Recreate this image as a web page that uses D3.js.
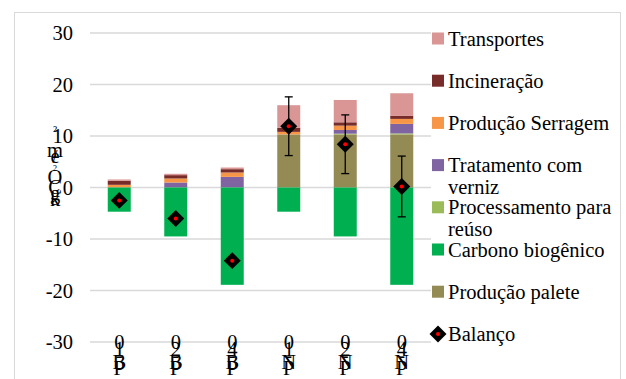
<!DOCTYPE html>
<html>
<head>
<meta charset="utf-8">
<script src="https://cdn.jsdelivr.net/npm/d3@7"></script>
<style>
  html, body { margin: 0; padding: 0; background: #fff; }
</style>
</head>
<body>
<svg id="chart" width="626" height="379"></svg>
<script>
// Pallet scenarios (kg CO2e per m²)
const categories = ["PB-10", "PB-20", "PB-40", "PN-10", "PN-20", "PN-40"];

const producaoPalete   = [0, 0, 0, 10.3, 10.3, 10.3];
const processamento    = [0, 0, 0, 0, 0.15, 0.2];
const tratamento       = [0, 0.97, 2.07, 0, 0.72, 1.85];
const producaoSerragem = [0.52, 0.78, 0.84, 0.5, 0.84, 0.97];
const incineracao      = [0.78, 0.65, 0.65, 0.78, 0.65, 0.58];
const transportes      = [0.26, 0.26, 0.32, 4.4, 4.34, 4.4];
const carbonoBiogenico = [-4.7, -9.5, -18.9, -4.7, -9.5, -18.9];
const balanco          = [-2.5, -6.0, -14.2, 11.9, 8.4, 0.2];
const balancoErro      = [0, 0, 0, 5.7, 5.7, 5.9];

const yTicks = [-30, -20, -10, 0, 10, 20, 30];
const yLabel = "kgCO₂e/m²";

// Series, bottom of the stack first
const series = [
  { key: "Produção palete",          values: producaoPalete,   color: "#948A54" },
  { key: "Processamento para reúso", values: processamento,    color: "#9BBB59" },
  { key: "Tratamento com verniz",    values: tratamento,       color: "#8064A2" },
  { key: "Produção Serragem",        values: producaoSerragem, color: "#F79646" },
  { key: "Incineração",              values: incineracao,      color: "#772C2A" },
  { key: "Transportes",              values: transportes,      color: "#D99694" },
  { key: "Carbono biogênico",        values: carbonoBiogenico, color: "#00B050" }
];

const legendItems = [
  { lines: ["Transportes"], color: "#D99694" },
  { lines: ["Incineração"], color: "#772C2A" },
  { lines: ["Produção Serragem"], color: "#F79646" },
  { lines: ["Tratamento com", "verniz"], color: "#8064A2" },
  { lines: ["Processamento para", "reúso"], color: "#9BBB59" },
  { lines: ["Carbono biogênico"], color: "#00B050" },
  { lines: ["Produção palete"], color: "#948A54" },
  { lines: ["Balanço"], diamond: true }
];

const rows = categories.map((c, i) => {
  const r = { cat: c };
  series.forEach(s => { r[s.key] = s.values[i]; });
  return r;
});

const FONT = "'Liberation Serif', monospace";
const svg = d3.select("#chart");
const fontSize = 20.5;
function addText(parent, px, py, str, size, anchor) {
  return parent.append("text")
    .attr("x", px).attr("y", py)
    .attr("font-size", size || fontSize)
    .attr("text-anchor", anchor || "start")
    .attr("fill", "#000")
    .style("font-family", FONT)
    .text(str);
}

// Outer frame
svg.append("rect")
  .attr("x", 14.5).attr("y", 12.5)
  .attr("width", 606).attr("height", 380)
  .attr("fill", "none").attr("stroke", "#d9d9d9").attr("stroke-width", 1);

const x = d3.scaleBand().domain(categories).range([91, 430])
  .paddingInner(0.593).paddingOuter(0.2965);
const y = d3.scaleLinear().domain([-30, 30]).range([342, 33]);

// Horizontal gridlines
svg.append("g").selectAll("line").data(yTicks).join("line")
  .attr("x1", 90).attr("x2", 431)
  .attr("y1", d => y(d)).attr("y2", d => y(d))
  .attr("stroke", "#d9d9d9").attr("stroke-width", 1.4);

// Y axis labels (axis generator with its own text restyled)
const yAxis = d3.axisLeft(y).tickValues(yTicks).tickSize(0).tickPadding(0)
  .tickFormat(d => String(d));
const yg = svg.append("g").attr("transform", "translate(73,0)").call(yAxis)
  .attr("font-family", null).attr("font-size", null);
yg.select(".domain").remove();
yg.selectAll("text")
  .attr("font-size", fontSize).attr("fill", "#000")
  .style("font-family", FONT);

// Stacked bars
const stack = d3.stack().keys(series.map(s => s.key)).offset(d3.stackOffsetDiverging);
const stacked = stack(rows);
const colorOf = new Map(series.map(s => [s.key, s.color]));

svg.append("g").selectAll("g").data(stacked).join("g")
  .attr("fill", d => colorOf.get(d.key))
  .selectAll("rect").data(d => d).join("rect")
  .attr("x", d => x(d.data.cat))
  .attr("width", x.bandwidth())
  .attr("y", d => y(Math.max(d[0], d[1])))
  .attr("height", d => Math.abs(y(d[0]) - y(d[1])));

// Error bars on the balance
const cx = c => x(c) + x.bandwidth() / 2;
const errG = svg.append("g").attr("stroke", "#000").attr("stroke-width", 1.3);
categories.forEach((c, i) => {
  if (!balancoErro[i]) return;
  const top = y(balanco[i] + balancoErro[i]);
  const bot = y(balanco[i] - balancoErro[i]);
  errG.append("line").attr("x1", cx(c)).attr("x2", cx(c)).attr("y1", top).attr("y2", bot);
  errG.append("line").attr("x1", cx(c) - 4).attr("x2", cx(c) + 4).attr("y1", top).attr("y2", top);
  errG.append("line").attr("x1", cx(c) - 4).attr("x2", cx(c) + 4).attr("y1", bot).attr("y2", bot);
});

// Balance markers
const diamond = d3.symbol().type(d3.symbolSquare).size(144);
function drawMarker(g, px, py) {
  g.append("path").attr("d", diamond())
    .attr("transform", `translate(${px},${py}) rotate(45)`).attr("fill", "#000");
  g.append("circle").attr("cx", px).attr("cy", py).attr("r", 2).attr("fill", "#ff0000");
}
const markG = svg.append("g");
categories.forEach((c, i) => drawMarker(markG, cx(c), y(balanco[i])));

// Category labels, characters stacked vertically
const catG = svg.append("g");
categories.forEach(c => {
  c.split("").reverse().forEach((ch, k) => {
    addText(catG, cx(c), 349 + k * 6.5, ch, fontSize, "middle");
  });
});

// Y axis title, characters stacked vertically
const yChars = yLabel.split("").reverse();
const yPos = [136, 157, 163, 163, 168, 184, 194, 200, 206];
const ySize = [14, 20.5, 18, 20.5, 14, 20.5, 20.5, 20.5, 20.5];
const ytG = svg.append("g");
yChars.forEach((ch, k) => addText(ytG, 55, yPos[k], ch, ySize[k], "middle"));

// Legend
const legG = svg.append("g");
legendItems.forEach((it, i) => {
  const cy = 38.5 + i * 42.2;
  if (it.diamond) {
    drawMarker(legG, 438, cy);
  } else {
    legG.append("rect").attr("x", 432).attr("y", cy - 6).attr("width", 12).attr("height", 12)
      .attr("fill", it.color);
  }
  it.lines.forEach((ln, k) => addText(legG, 448, cy + 7 + k * 22, ln));
});
</script>
</body>
</html>
